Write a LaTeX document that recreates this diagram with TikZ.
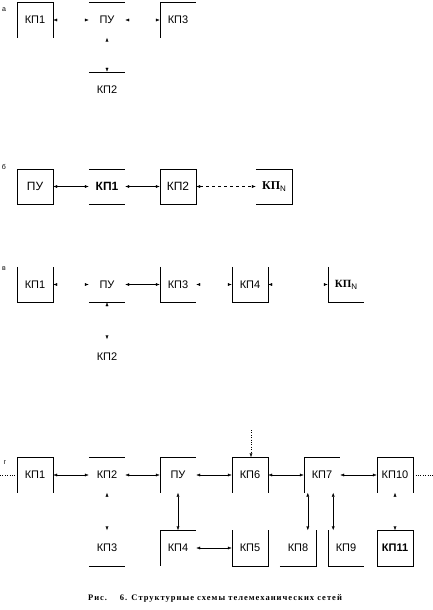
\documentclass[tikz,border=0pt]{standalone}
\usepackage{fontspec}
\setmainfont{Liberation Sans}
\newfontfamily\serif{Liberation Serif}
\newfontfamily\capfont[LetterSpace=12]{Liberation Serif}
\usetikzlibrary{arrows.meta,calc}

\newcommand{\kpn}{{\serif\bfseries КП}\raisebox{-0.35ex}{\fontsize{8}{9}\selectfont N}}

\tikzset{
  kp/.style={minimum width=36pt, minimum height=35pt, inner sep=0pt, font=\fontsize{11}{13}\selectfont},
  kpbig/.style={kp, font=\fontsize{12}{14}\selectfont},
  link/.style={{Latex[length=4pt,width=3pt]}-{Latex[length=4pt,width=3pt]}, thin},
  stub/.style={{Latex[length=4pt,width=3pt,color=black]}-{Latex[length=4pt,width=3pt,color=black]}, draw=white, thin},
  part/.style={font=\fontsize{7}{8}\selectfont, inner sep=0pt}
}

\begin{document}
\begin{tikzpicture}[x=1pt,y=-1pt]
\useasboundingbox (0,0) rectangle (433,610);

% a) star
\node[part] (la) at (4,10) {а};
\node[kp] (a1) at (35,20) {КП1};
\node[kp] (apu) at (107,20) {ПУ};
\node[kp] (a3) at (178,20) {КП3};
\node[kp] (a2) at (107,89.5) {КП2};
\draw (a1.south west) -- (a1.north west) -- (a1.north east) -- (a1.south east);
\draw (apu.north west) -- (apu.north east);
\draw (a3.south west) -- (a3.north west) -- (a3.north east);
\draw (a2.north west) -- (a2.north east);
\draw[stub] (a1) -- (apu);
\draw[stub] (apu) -- (a3);
\draw[stub] (apu) -- (a2);

% b) chain
\node[part] (lb) at (4,167) {б};
\node[kpbig] (b0) at (35,186.5) {ПУ};
\node[kpbig] (b1) at (107,186.5) {\bfseries КП1};
\node[kpbig] (b2) at (178,186.5) {КП2};
\node[kpbig] (bN) at (274,186.5) {\kpn};
\draw (b0.south west) rectangle (b0.north east);
\draw (b1.north west) -- (b1.north east) (b1.south west) -- (b1.south east);
\draw (b2.south west) rectangle (b2.north east);
\draw (bN.north west) -- (bN.north east) -- (bN.south east) -- (bN.south west);
\draw[link] (b0) -- (b1);
\draw[link] (b1) -- (b2);
\draw[link, dashed] (b2) -- (bN);

% c) tree
\node[part] (lv) at (4,269) {в};
\node[kp] (v1) at (35,284.5) {КП1};
\node[kp] (vpu) at (107,284.5) {ПУ};
\node[kp] (v3) at (178,284.5) {КП3};
\node[kp] (v4) at (250,284.5) {КП4};
\node[kp] (vN) at (346,284.5) {\kpn};
\node[kp] (v2) at (107,357) {КП2};
\draw (v1.north west) -- (v1.south west) -- (v1.south east) -- (v1.north east);
\draw (vpu.south west) -- (vpu.south east);
\draw (v3.north west) -- (v3.south west) -- (v3.south east);
\draw (v4.north west) -- (v4.south west) -- (v4.south east) -- (v4.north east);
\draw (vN.north west) -- (vN.south west) -- (vN.south east);
\draw[stub] (v1) -- (vpu);
\draw[link] (vpu) -- (v3);
\draw[stub] (v3) -- (v4);
\draw[stub] (v4) -- (vN);
\draw[stub] (vpu) -- (v2);

% d) mixed network
\node[part] (lg) at (5,463) {г};
\node[kp] (g1) at (35,475) {КП1};
\node[kp] (g2) at (107,475) {КП2};
\node[kp] (gpu) at (178,475) {ПУ};
\node[kp] (g6) at (250,475) {КП6};
\node[kp] (g7) at (322,475) {КП7};
\node[kp] (g10) at (395,475) {КП10};
\node[kp] (g3) at (107,548) {КП3};
\node[kp] (g4) at (178,548) {КП4};
\node[kp] (g5) at (250,548) {КП5};
\node[kp] (g8) at (298,548) {КП8};
\node[kp] (g9) at (346,548) {КП9};
\node[kp] (g11) at (395,548) {\bfseries КП11};
\coordinate (gin) at (0,475);
\coordinate (gout) at (433,475);
\coordinate (gtop) at (251,430);

\draw (g1.south west) -- (g1.north west) -- (g1.north east) -- (g1.south east);
\draw (g2.north west) -- (g2.north east);
\draw (gpu.south west) -- (gpu.north west) -- (gpu.north east);
\draw (g6.south west) -- (g6.north west) -- (g6.north east) -- (g6.south east);
\draw (g7.south west) -- (g7.north west) -- (g7.north east);
\draw (g10.south west) -- (g10.north west) -- (g10.north east) -- (g10.south east);
\draw (g3.south west) -- (g3.south east);
\draw (g4.south west) -- (g4.north west) -- (g4.north east);
\draw (g5.north west) -- (g5.south west) -- (g5.south east) -- (g5.north east);
\draw (g8.south west) -- (g8.south east) -- (g8.north east);
\draw (g9.north west) -- (g9.south west) -- (g9.south east);
\draw (g11.south west) rectangle (g11.north east);

\draw[link] (g1) -- (g2);
\draw[link] (g2) -- (gpu);
\draw[link] (gpu) -- (g6);
\draw[link] (g6) -- (g7);
\draw[link] (g7) -- (g10);
\draw[dotted] (gin) -- (g1);
\draw[dotted] (g10) -- (gout);
\draw[dotted, -{Latex[length=4pt,width=3pt]}] (gtop) -- (gtop |- g6.north);
\draw[stub] (g2) -- (g3);
\draw[link] (gpu) -- (g4);
\draw[link] (g4) -- (g5);
\draw[link] ([xshift=4pt]g7.south west) -- ([xshift=4pt]g7.south west |- g8.north);
\draw[link] ([xshift=-7pt]g7.south east) -- ([xshift=-7pt]g7.south east |- g9.north);
\draw[stub] (g10) -- (g11);

% caption
\node[font=\capfont\bfseries\fontsize{8.5}{10}\selectfont] (cap) at (215,598) {Рис.\hspace{1.5em}6. Структурные схемы телемеханических сетей};
\end{tikzpicture}
\end{document}
